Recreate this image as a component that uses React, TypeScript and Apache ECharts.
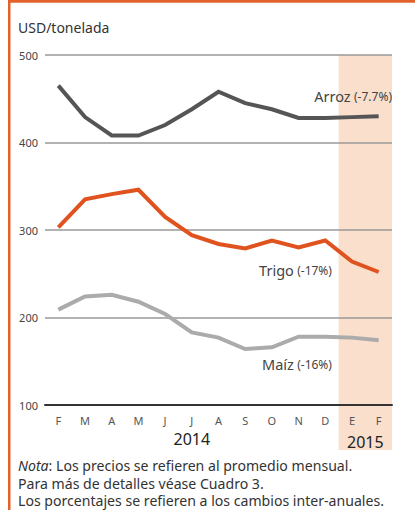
import React, { useEffect, useRef } from "react";
import * as echarts from "echarts";

const months = ["F", "M", "A", "M", "J", "J", "A", "S", "O", "N", "D", "E", "F"];
const arroz = [465, 429, 408, 408, 420, 438, 458, 445, 438, 428, 428, 429, 430];
const trigo = [303, 335, 341, 346, 315, 294, 284, 279, 288, 280, 288, 264, 252];
const maiz = [209, 224, 226, 218, 204, 183, 177, 164, 166, 178, 178, 177, 174];
const yMin = 100;
const yMax = 500;
const yStep = 100;
const years = [
  { label: "2014", from: 0, to: 10 },
  { label: "2015", from: 11, to: 12 },
];
const shadedFrom = 11;
const shadedTo = 12;
const seriesNames = ["Arroz", "Trigo", "Maíz"];
const seriesChanges = ["(-7.7%)", "(-17%)", "(-16%)"];
const unitLabel = "USD/tonelada";
const notes = [
  "Los precios se refieren al promedio mensual.",
  "Para más de detalles véase Cuadro 3.",
  "Los porcentajes se refieren a los cambios inter-anuales.",
];

const FONT = "'Noto Sans', 'Open Sans', sans-serif";
const ORANGE = "#e0531f";

export default function App() {
  const ref = useRef<HTMLDivElement>(null);
  useEffect(() => {
    if (!ref.current) return;
    const chart = echarts.init(ref.current, null, { renderer: "svg" });
    const series = [
      { name: seriesNames[0], data: arroz, color: "#555555" },
      { name: seriesNames[1], data: trigo, color: ORANGE },
      { name: seriesNames[2], data: maiz, color: "#ababab" },
    ];
    chart.setOption({
      animation: false,
      grid: { left: 45, right: 23, top: 55, bottom: 105 },
      xAxis: {
        type: "category",
        data: months,
        boundaryGap: true,
        axisLine: { lineStyle: { color: "#333", width: 2 } },
        axisTick: {
          inside: true,
          alignWithLabel: true,
          length: 8,
          lineStyle: { color: "#222", width: 2 },
        },
        axisLabel: { color: "#555", fontSize: 11, fontFamily: FONT, margin: 10 },
      },
      yAxis: {
        type: "value",
        min: yMin,
        max: yMax,
        interval: yStep,
        axisLine: { show: false },
        axisTick: { show: false },
        axisLabel: { color: "#444", fontSize: 11, fontFamily: FONT, margin: 7 },
        splitLine: { lineStyle: { color: "#999", width: 1.5 } },
      },
      series: series.map((s) => ({
        type: "line",
        name: s.name,
        data: s.data,
        symbol: "none",
        lineStyle: { color: s.color, width: 4, join: "miter" },
        z: 3,
      })),
    });

    const px = (i: number) => chart.convertToPixel({ xAxisIndex: 0 }, i) as number;
    const py = (v: number) => chart.convertToPixel({ yAxisIndex: 0 }, v) as number;
    const bw = px(1) - px(0);
    const yTop = py(yMax);
    const yBot = py(yMin);

    const labelPos = [
      { x: px(12) + bw / 2, y: yTop + 41 },
      { x: px(10) + bw / 4, y: yTop + 215 },
      { x: px(10) + bw / 4, y: yTop + 309 },
    ];

    const graphic: any[] = [
      {
        type: "rect",
        z: -1,
        silent: true,
        shape: {
          x: px(shadedFrom) - bw / 2,
          y: yTop,
          width: px(shadedTo) - px(shadedFrom) + bw,
          height: yBot - yTop + 45,
        },
        style: { fill: "#f9dfcc" },
      },
      { type: "rect", shape: { x: 8, y: 0, width: 2.5, height: 510 }, style: { fill: "#e2622a" } },
      { type: "rect", shape: { x: 8, y: 0, width: 407, height: 2.7 }, style: { fill: "#e2622a" } },
      {
        type: "text",
        x: 18,
        y: 27,
        style: { text: unitLabel, fontSize: 14, fontFamily: FONT, fill: "#333", verticalAlign: "middle" },
      },
    ];
    years.forEach((yr) => {
      graphic.push({
        type: "text",
        x: (px(yr.from) + px(yr.to)) / 2,
        y: yr.label === "2015" ? yBot + 37 : yBot + 34,
        style: {
          text: yr.label,
          fontSize: 16,
          fontFamily: FONT,
          fill: "#222",
          align: "center",
          verticalAlign: "middle",
        },
      });
    });
    series.forEach((s, i) => {
      graphic.push({
        type: "text",
        x: labelPos[i].x,
        y: labelPos[i].y,
        z: 10,
        style: {
          text: `{a|${seriesNames[i]}} {b|${seriesChanges[i]}}`,
          align: "right",
          verticalAlign: "middle",
          rich: {
            a: { fontSize: 14.5, fontFamily: FONT, fill: "#444" },
            b: { fontSize: 12, fontFamily: FONT, fill: "#444" },
          },
        },
      });
    });
    graphic.push({
      type: "text",
      x: 18,
      y: 465,
      style: {
        text: `{i|Nota}{n|: ${notes[0]}}`,
        verticalAlign: "middle",
        rich: {
          i: { fontSize: 14.1, fontFamily: FONT, fontStyle: "italic", fill: "#333" },
          n: { fontSize: 14.1, fontFamily: FONT, fill: "#333" },
        },
      },
    });
    notes.slice(1).forEach((n, i) => {
      graphic.push({
        type: "text",
        x: 18,
        y: 483 + i * 17.5,
        style: { text: n, fontSize: 14.1, fontFamily: FONT, fill: "#333", verticalAlign: "middle" },
      });
    });
    chart.setOption({ graphic });
    return () => chart.dispose();
  }, []);
  return (
    <div
      ref={ref}
      style={{ position: "absolute", left: 0, top: 0, width: 415, height: 510, background: "#fff" }}
    />
  );
}
